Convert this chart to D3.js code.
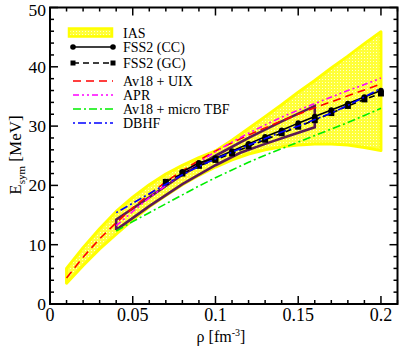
<!DOCTYPE html>
<html><head><meta charset="utf-8">
<script src="https://cdn.jsdelivr.net/npm/d3@7"></script>
<style>body{margin:0;background:#fff}svg{display:block}</style>
</head><body><svg id="c" width="399" height="348"></svg>
<script>
// ---- data ----
const rhoGrid = [0.01,0.02,0.03,0.04,0.05,0.06,0.07,0.08,0.09,0.10,0.11,0.12,0.13,0.14,0.15,0.16,0.17,0.18,0.19,0.20];
const iasUpper = [6.0,9.5,12.7,15.6,18.0,20.1,21.9,23.4,24.7,25.8,27.6,29.6,31.6,33.6,35.7,37.7,39.8,41.8,43.9,45.9];
const iasLower = [3.5,6.5,9.3,11.8,14.2,16.4,18.3,20.1,21.7,23.1,24.3,25.3,26.0,26.5,26.8,27.0,27.0,26.8,26.4,25.9];

const ccRho = [0.08,0.09,0.10,0.11,0.12,0.13,0.14,0.15,0.16,0.17,0.18,0.19,0.20];
const ccE   = [22.3,23.8,24.6,25.8,27.0,28.2,29.3,30.5,31.6,32.7,33.8,34.9,36.0];
const gcRho = [0.07,0.08,0.09,0.10,0.11,0.12,0.13,0.14,0.15,0.16,0.17,0.18,0.19,0.20];
const gcE   = [20.6,22.0,23.3,24.3,25.4,26.6,27.7,28.8,29.9,31.0,32.2,33.4,34.5,35.5];

const uixRho = rhoGrid;
const uixE   = [4.4,7.9,11.0,13.7,16.2,18.5,20.6,22.5,24.2,25.8,27.2,28.5,29.7,30.9,32.0,33.1,34.1,35.1,36.1,37.1];
const modRho = [0.04,0.05,0.06,0.07,0.08,0.09,0.10,0.11,0.12,0.13,0.14,0.15,0.16,0.17,0.18,0.19,0.20];
const aprE   = [13.2,15.6,17.9,20.0,22.0,23.9,25.7,27.3,28.8,30.2,31.5,32.7,33.8,34.9,36.0,37.0,38.1];
const tbfE   = [12.3,13.9,15.4,16.9,18.4,19.9,21.3,22.6,23.9,25.1,26.2,27.3,28.4,29.5,30.6,31.8,33.0];
const dbhfE  = [15.4,17.0,18.6,20.2,21.8,23.2,24.5,25.6,26.8,27.9,29.0,30.0,31.1,32.2,33.5,34.9,36.4];

const polyRho = [0.04,0.04,0.06,0.08,0.10,0.12,0.14,0.16,0.16,0.145,0.13,0.115,0.10,0.08,0.06,0.04];
const polyE   = [12.5,14.2,18.0,21.8,25.0,28.0,30.8,33.4,29.8,28.4,27.0,25.5,23.4,20.2,16.5,12.5];

const xTicks = [0,0.05,0.1,0.15,0.2];
const xTickLabels = ["0","0.05","0.1","0.15","0.2"];
const yTicks = [0,10,20,30,40,50];
const legendLabels = ["IAS","FSS2 (CC)","FSS2 (GC)","Av18 + UIX","APR","Av18 + micro TBF","DBHF"];

// ---- drawing ----
const FONT = "'Liberation Serif', 'Times New Roman', 'DejaVu Serif', serif";
const svg = d3.select("#c");
const L=50,R=397.5,T=7.5,B=304;
const x = d3.scaleLinear().domain([0,0.21]).range([L,R]);
const y = d3.scaleLinear().domain([0,50]).range([B,T]);

const defs = svg.append("defs");
const pat = defs.append("pattern").attr("id","dots").attr("patternUnits","userSpaceOnUse").attr("width",3).attr("height",3);
pat.append("rect").attr("width",3).attr("height",3).attr("fill","#ffff3a");
pat.append("rect").attr("x",1).attr("y",1).attr("width",1).attr("height",1).attr("fill","#ffffcc");
defs.append("clipPath").attr("id","clip").append("rect").attr("x",L).attr("y",T).attr("width",R-L).attr("height",B-T);

const g = svg.append("g").attr("clip-path","url(#clip)");

const band = rhoGrid.map((r,i)=>({r,u:iasUpper[i],l:iasLower[i]}));
g.append("path").datum(band)
 .attr("d", d3.area().x(d=>x(d.r)).y0(d=>y(d.l)).y1(d=>y(d.u)))
 .attr("fill","url(#dots)").attr("stroke","#ffff00").attr("stroke-width",3).attr("stroke-linejoin","round");

const line = d3.line().x(d=>x(d[0])).y(d=>y(d[1]));
const zip = (a,b)=>a.map((v,i)=>[v,b[i]]);

// purple polygon
g.append("path").datum(zip(polyRho,polyE)).attr("d",line).attr("fill","none")
 .attr("stroke","#5c1a55").attr("stroke-width",2.6).attr("stroke-linejoin","miter");

const styles = {
  uix:{c:"#ff0000",d:"8,5"},
  apr:{c:"#ff00ff",d:"6,3,2,3,2,3"},
  tbf:{c:"#00ee00",d:"8,3,2,3"},
  dbhf:{c:"#0000ff",d:"2,3,8,3"},
};
g.append("path").datum(zip(modRho,tbfE)).attr("d",line).attr("fill","none").attr("stroke",styles.tbf.c).attr("stroke-width",1.6).attr("stroke-dasharray",styles.tbf.d);
g.append("path").datum(zip(uixRho,uixE)).attr("d",line).attr("fill","none").attr("stroke",styles.uix.c).attr("stroke-width",1.6).attr("stroke-dasharray",styles.uix.d);
g.append("path").datum(zip(modRho,aprE)).attr("d",line).attr("fill","none").attr("stroke",styles.apr.c).attr("stroke-width",1.6).attr("stroke-dasharray",styles.apr.d);

// FSS2
g.append("path").datum(zip(gcRho,gcE)).attr("d",line).attr("fill","none").attr("stroke","#000").attr("stroke-width",1.6).attr("stroke-dasharray","6,4");
g.selectAll(".sq").data(zip(gcRho,gcE)).join("rect").attr("x",d=>x(d[0])-3).attr("y",d=>y(d[1])-3).attr("width",6).attr("height",6).attr("fill","#000");
g.append("path").datum(zip(ccRho,ccE)).attr("d",line).attr("fill","none").attr("stroke","#000").attr("stroke-width",1.6);
g.selectAll(".ci").data(zip(ccRho,ccE)).join("circle").attr("cx",d=>x(d[0])).attr("cy",d=>y(d[1])).attr("r",2.8).attr("fill","#000");
g.append("path").datum(zip(modRho,dbhfE)).attr("d",line).attr("fill","none").attr("stroke",styles.dbhf.c).attr("stroke-width",1.6).attr("stroke-dasharray",styles.dbhf.d);

// axes frame
const ax = svg.append("g");
const xMinor = d3.range(0,0.2101,0.01), yMinor = d3.range(0,50.01,2);
xMinor.forEach(v=>{const M=xTicks.some(t=>Math.abs(t-v)<1e-6);const len=M?8:4;
  ax.append("line").attr("x1",x(v)).attr("x2",x(v)).attr("y1",B).attr("y2",B-len).attr("stroke","#000").attr("stroke-width",1.5);
  ax.append("line").attr("x1",x(v)).attr("x2",x(v)).attr("y1",T).attr("y2",T+len).attr("stroke","#000").attr("stroke-width",1.5);});
yMinor.forEach(v=>{const M=yTicks.includes(v);const len=M?8:4;
  ax.append("line").attr("y1",y(v)).attr("y2",y(v)).attr("x1",L).attr("x2",L+len).attr("stroke","#000").attr("stroke-width",1.5);
  ax.append("line").attr("y1",y(v)).attr("y2",y(v)).attr("x1",R).attr("x2",R-len).attr("stroke","#000").attr("stroke-width",1.5);});
ax.append("rect").attr("x",L).attr("y",T).attr("width",R-L).attr("height",B-T).attr("fill","none").attr("stroke","#000").attr("stroke-width",2);

xTicks.forEach((v,i)=>ax.append("text").attr("font-family",FONT).attr("x",x(v)).attr("y",321).attr("text-anchor","middle").attr("font-size",18).text(xTickLabels[i]));
yTicks.forEach(v=>ax.append("text").attr("font-family",FONT).attr("x",L-4).attr("y",Math.max(y(v)+6,15.5)).attr("text-anchor","end").attr("font-size",17.5).text(v));

// axis labels
const xl = ax.append("text").attr("font-family",FONT).attr("x",221).attr("y",342).attr("text-anchor","middle").attr("font-size",16);
xl.append("tspan").text("ρ [fm");
xl.append("tspan").attr("dy",-6).attr("font-size",10).text("-3");
xl.append("tspan").attr("dy",6).text("]");
const yl = ax.append("text").attr("font-family",FONT).attr("transform","translate(21,155) rotate(-90)").attr("text-anchor","middle").attr("font-size",17);
yl.append("tspan").text("E");
yl.append("tspan").attr("dy",4).attr("font-size",11).text("sym");
yl.append("tspan").attr("dy",-4).text(" [MeV]");

// legend
const lg = svg.append("g");
const rowsY = [33,47,63,81,95,109,123];
const lx1=73, lx2=113, tx=123;
lg.append("rect").attr("x",69).attr("y",28.5).attr("width",43).attr("height",8).attr("fill","url(#dots)").attr("stroke","#ffff00").attr("stroke-width",2.5);
lg.append("line").attr("x1",lx1).attr("x2",lx2).attr("y1",rowsY[1]).attr("y2",rowsY[1]).attr("stroke","#000").attr("stroke-width",1.6);
[lx1,lx2].forEach(v=>lg.append("circle").attr("cx",v).attr("cy",rowsY[1]).attr("r",2.8).attr("fill","#000"));
lg.append("line").attr("x1",lx1).attr("x2",lx2).attr("y1",rowsY[2]).attr("y2",rowsY[2]).attr("stroke","#000").attr("stroke-width",1.6).attr("stroke-dasharray","6,4");
[lx1,lx2].forEach(v=>lg.append("rect").attr("x",v-2.5).attr("y",rowsY[2]-2.5).attr("width",5).attr("height",5).attr("fill","#000"));
[styles.uix,styles.apr,styles.tbf,styles.dbhf].forEach((s,i)=>{
  lg.append("line").attr("x1",lx1).attr("x2",lx2).attr("y1",rowsY[i+3]).attr("y2",rowsY[i+3]).attr("stroke",s.c).attr("stroke-width",1.6).attr("stroke-dasharray",s.d);
});
legendLabels.forEach((t,i)=>lg.append("text").attr("font-family",FONT).attr("x",tx).attr("y",rowsY[i]+4.5).attr("font-size",14).text(t));
</script></body></html>
